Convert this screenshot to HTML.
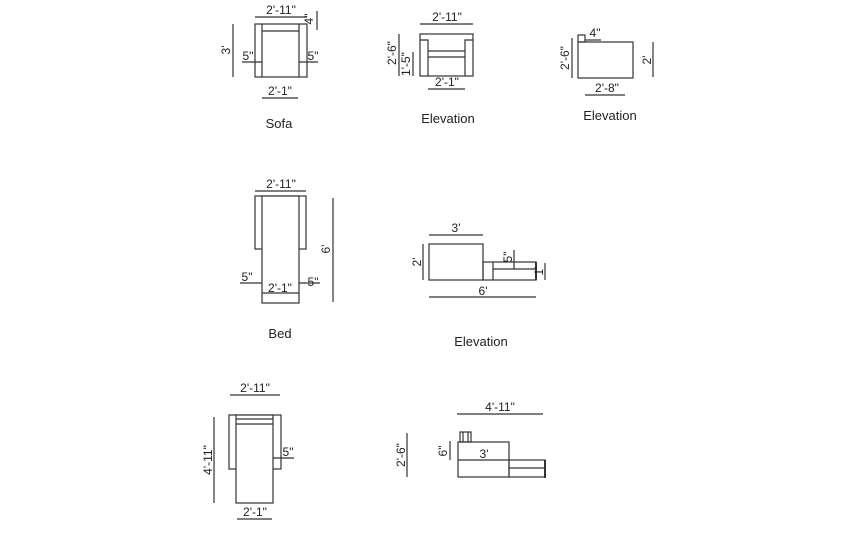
<!DOCTYPE html>
<html><head><style>
html,body{margin:0;padding:0;background:#fff;}
svg{display:block;}
text{font-family:"Liberation Sans",Arial,sans-serif;fill:#222;}
.d{font-size:12px;}
.l{font-size:13px;}
line,rect,polyline{stroke:#333;stroke-width:1.2;fill:none;}
</style></head><body>
<svg width="850" height="533" viewBox="0 0 850 533" xmlns="http://www.w3.org/2000/svg">
<!-- Sofa plan -->
<rect x="255" y="24" width="52" height="53"/>
<line x1="262" y1="24" x2="262" y2="77"/><line x1="299" y1="24" x2="299" y2="77"/>
<line x1="262" y1="31" x2="299" y2="31"/>
<line x1="255" y1="17" x2="307" y2="17"/><text class="d" x="281" y="14" text-anchor="middle">2'-11"</text>
<line x1="317" y1="11" x2="317" y2="30"/><text class="d" transform="translate(313,19) rotate(-90)" text-anchor="middle">4"</text>
<line x1="233" y1="24" x2="233" y2="77"/><text class="d" transform="translate(230,50) rotate(-90)" text-anchor="middle">3'</text>
<line x1="242" y1="62" x2="262" y2="62"/><text class="d" x="248" y="60" text-anchor="middle">5"</text>
<line x1="299" y1="62" x2="318" y2="62"/><text class="d" x="313" y="60" text-anchor="middle">5"</text>
<line x1="262" y1="98" x2="298" y2="98"/><text class="d" x="280" y="95" text-anchor="middle">2'-1"</text>
<text class="l" x="279" y="128" text-anchor="middle">Sofa</text>

<!-- Elevation 1 -->
<rect x="420" y="34" width="53" height="42"/>
<polyline points="420,40 428,40 428,76"/><polyline points="473,40 465,40 465,76"/>
<line x1="428" y1="51" x2="465" y2="51"/><line x1="428" y1="57" x2="465" y2="57"/>
<line x1="420" y1="24" x2="473" y2="24"/><text class="d" x="447" y="21" text-anchor="middle">2'-11"</text>
<line x1="399" y1="34" x2="399" y2="76"/><text class="d" transform="translate(396,53) rotate(-90)" text-anchor="middle">2'-6"</text>
<line x1="413" y1="52" x2="413" y2="76"/><text class="d" transform="translate(410,64) rotate(-90)" text-anchor="middle">1'-5"</text>
<line x1="428" y1="89" x2="465" y2="89"/><text class="d" x="447" y="86" text-anchor="middle">2'-1"</text>
<text class="l" x="448" y="123" text-anchor="middle">Elevation</text>

<!-- Elevation 2 -->
<rect x="578" y="42" width="55" height="36"/>
<rect x="578" y="35" width="7" height="7"/>
<line x1="585" y1="40" x2="601" y2="40"/><text class="d" x="595" y="37" text-anchor="middle">4"</text>
<line x1="572" y1="38" x2="572" y2="78"/><text class="d" transform="translate(569,58) rotate(-90)" text-anchor="middle">2'-6"</text>
<line x1="653" y1="42" x2="653" y2="77"/><text class="d" transform="translate(651,60) rotate(-90)" text-anchor="middle">2'</text>
<line x1="585" y1="95" x2="625" y2="95"/><text class="d" x="607" y="92" text-anchor="middle">2'-8"</text>
<text class="l" x="610" y="120" text-anchor="middle">Elevation</text>

<!-- Bed -->
<rect x="255" y="196" width="51" height="53"/>
<rect x="262" y="196" width="37" height="107" style="fill:#fff"/>
<line x1="262" y1="293" x2="299" y2="293"/>
<line x1="255" y1="191" x2="306" y2="191"/><text class="d" x="281" y="188" text-anchor="middle">2'-11"</text>
<line x1="333" y1="198" x2="333" y2="302"/><text class="d" transform="translate(330,249) rotate(-90)" text-anchor="middle">6'</text>
<line x1="240" y1="283" x2="262" y2="283"/><text class="d" x="247" y="281" text-anchor="middle">5"</text>
<line x1="299" y1="283" x2="320" y2="283"/><text class="d" x="313" y="286" text-anchor="middle">5"</text>
<text class="d" x="280" y="292" text-anchor="middle">2'-1"</text>
<text class="l" x="280" y="338" text-anchor="middle">Bed</text>

<!-- Elevation mid -->
<rect x="429" y="244" width="54" height="36"/>
<rect x="483" y="262" width="53" height="18"/>
<line x1="493" y1="262" x2="493" y2="280"/><line x1="493" y1="269" x2="536" y2="269"/>
<line x1="514" y1="250" x2="514" y2="269"/>
<text class="d" transform="translate(512,257) rotate(-90)" text-anchor="middle">5"</text>
<line x1="536" y1="262" x2="536" y2="280" style="stroke-width:2"/>
<line x1="545" y1="263" x2="545" y2="280"/><text class="d" transform="translate(543,271) rotate(-90)" text-anchor="middle">1'</text>
<line x1="429" y1="235" x2="483" y2="235"/><text class="d" x="456" y="232" text-anchor="middle">3'</text>
<line x1="423" y1="244" x2="423" y2="280"/><text class="d" transform="translate(421,262) rotate(-90)" text-anchor="middle">2'</text>
<line x1="429" y1="297" x2="536" y2="297"/><text class="d" x="483" y="295" text-anchor="middle">6'</text>
<text class="l" x="481" y="346" text-anchor="middle">Elevation</text>

<!-- Bottom left -->
<rect x="229" y="415" width="52" height="54"/>
<rect x="236" y="415" width="37" height="88" style="fill:#fff"/>
<line x1="236" y1="419" x2="273" y2="419"/><line x1="236" y1="424" x2="273" y2="424"/>
<line x1="230" y1="395" x2="280" y2="395"/><text class="d" x="255" y="392" text-anchor="middle">2'-11"</text>
<line x1="214" y1="417" x2="214" y2="503"/><text class="d" transform="translate(212,460) rotate(-90)" text-anchor="middle">4'-11"</text>
<line x1="273" y1="458" x2="294" y2="458"/><text class="d" x="288" y="456" text-anchor="middle">5"</text>
<line x1="237" y1="519" x2="272" y2="519"/><text class="d" x="255" y="516" text-anchor="middle">2'-1"</text>

<!-- Bottom right -->
<rect x="458" y="442" width="51" height="35"/>
<line x1="458" y1="460" x2="509" y2="460"/>
<rect x="460" y="432" width="11" height="10"/><line x1="463" y1="432" x2="463" y2="442"/><line x1="468" y1="432" x2="468" y2="442"/>
<rect x="509" y="460" width="36" height="17"/><line x1="509" y1="468" x2="545" y2="468"/>
<line x1="545" y1="460" x2="545" y2="478" style="stroke-width:2"/>
<line x1="457" y1="414" x2="543" y2="414"/><text class="d" x="500" y="411" text-anchor="middle">4'-11"</text>
<line x1="450" y1="441" x2="450" y2="460"/><text class="d" transform="translate(447,451) rotate(-90)" text-anchor="middle">6"</text>
<line x1="407" y1="433" x2="407" y2="477"/><text class="d" transform="translate(405,455) rotate(-90)" text-anchor="middle">2'-6"</text>
<text class="d" x="484" y="458" text-anchor="middle">3'</text>
</svg>
</body></html>
